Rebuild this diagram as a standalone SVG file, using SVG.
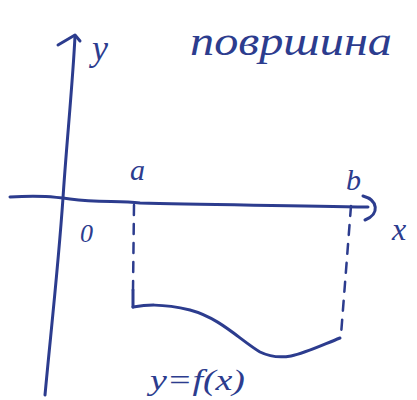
<svg xmlns="http://www.w3.org/2000/svg" width="417" height="400" viewBox="0 0 417 400">
<style>
.ink{fill:none;stroke:#2c3c8e;stroke-width:3;stroke-linecap:round;stroke-linejoin:round}
.dash{fill:none;stroke:#2c3c8e;stroke-width:2.5;stroke-linecap:round;stroke-dasharray:10 9}
.lbl{fill:#2c3c8e;font-family:"Liberation Serif",serif;font-style:italic}
</style>
<rect width="417" height="400" fill="#ffffff"/>
<g id="axes">
<path class="ink" d="M75,36 C73,80 66,150 63,198 C58,270 50,340 45,395"/>
<path class="ink" d="M58,45 L75,35 L80,41"/>
<path class="ink" d="M10,197 C40,195 55,197 70,199 C100,203 120,200 140,203 C200,205 280,205 368,207"/>
<path class="ink" d="M363,196 C378,200 380,214 365,220"/>
</g>
<g id="bounds">
<path class="dash" d="M134,205 L133,290"/>
<path class="ink" d="M133,290 L133,307"/>
<path class="dash" d="M351,206 L341,335"/>
</g>
<g id="curve">
<path class="ink" d="M133,307 C145,305 160,303 190,310 C220,318 240,340 260,352 C285,364 305,352 340,338"/>
</g>
<g id="labels">
<text class="lbl" x="92" y="60" font-size="36">y</text>
<text class="lbl" x="190" y="55" font-size="42" textLength="202" lengthAdjust="spacingAndGlyphs">површина</text>
<text class="lbl" x="130" y="180" font-size="30">a</text>
<text class="lbl" x="346" y="190" font-size="30">b</text>
<text class="lbl" x="80" y="242" font-size="26">0</text>
<text class="lbl" x="392" y="240" font-size="32">x</text>
<text class="lbl" x="150" y="390" font-size="30" textLength="95" lengthAdjust="spacingAndGlyphs">y=f(x)</text>
</g>
</svg>
